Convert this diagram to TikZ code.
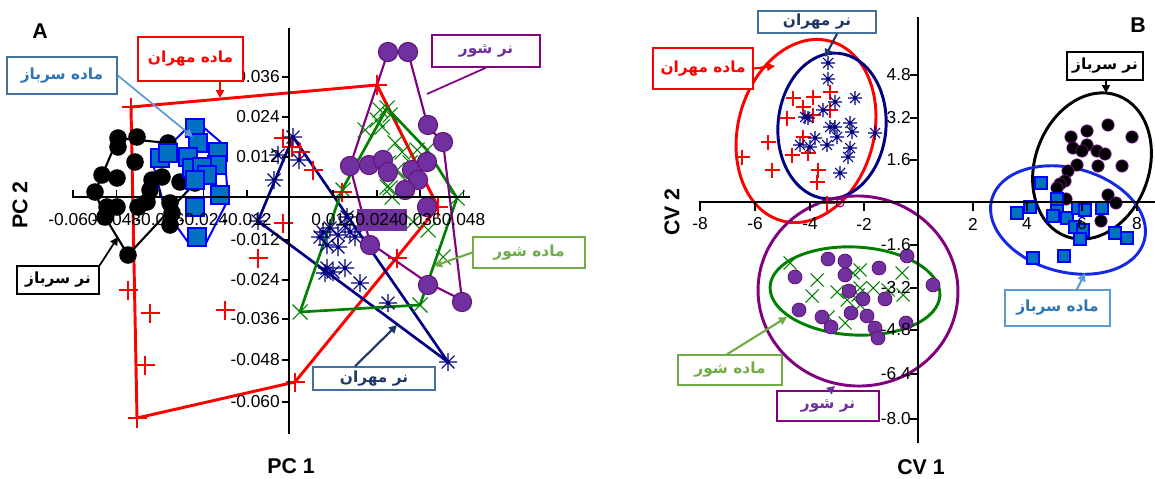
\documentclass[tikz,border=0pt]{standalone}
\usepackage{fontspec}
\setmainfont{Liberation Sans}
\newfontfamily\fa[Script=Arabic]{DejaVu Sans}
\TeXXeTstate=1
\usetikzlibrary{arrows.meta}
\definecolor{cNavy}{RGB}{0,0,128}
\definecolor{cGreen}{RGB}{0,128,0}
\definecolor{cPurp}{RGB}{112,48,160}
\definecolor{cPurpD}{RGB}{100,20,120}
\definecolor{cPurpL}{RGB}{128,0,128}
\definecolor{cSq}{RGB}{0,112,192}
\definecolor{cSqB}{RGB}{0,0,255}
\definecolor{cSteel}{RGB}{65,113,156}
\definecolor{cLB}{RGB}{91,155,213}
\definecolor{cLG}{RGB}{112,173,71}
\definecolor{cTxtB}{RGB}{46,117,182}
\definecolor{cTxtN}{RGB}{31,56,100}
\definecolor{cBlueE}{RGB}{20,40,230}
\begin{document}
\begin{tikzpicture}[x=0.75pt,y=-0.75pt,
  lbl/.style={draw, line width=1.1pt, inner sep=0pt, fill=white, font=\fa\bfseries\fontsize{11.5}{13}\selectfont},
  tk/.style={line width=0.9pt},
  axl/.style={line width=1.3pt},
  tl/.style={font=\fontsize{13}{15}\selectfont, inner sep=0pt},
  ttl/.style={font=\bfseries\fontsize{16}{18}\selectfont, inner sep=0pt},
  ann/.style={line width=1.6pt, -{Triangle[length=6pt,width=6pt]}},
  mk/.style={line width=0.8pt},
  hull/.style={line width=2pt, line join=round}]
\useasboundingbox (0,0) rectangle (1155,478);

% ================= PANEL A =================
% hulls
\draw[hull, red, line width=2.2pt] (131,107) -- (377,85) -- (438,207) -- (295,382) -- (137,418) -- cycle;
\draw[hull, black, line width=1.6pt] (118,138) -- (168,143) -- (195,183) -- (128,255) -- (105,217) -- (95,192) -- cycle;
\draw[hull, cSqB, line width=1.5pt] (195,120) -- (224,145) -- (228,200) -- (205,245) -- (190,245) -- (165,210) -- (152,160) -- (170,145) -- cycle;
\draw[hull, cNavy] (293,137) -- (448,362) -- (258,221) -- cycle;
\draw[hull, cGreen] (387,108) -- (427,150) -- (457,198) -- (420,305) -- (300,312) -- (342,190) -- cycle;
\draw[hull, cPurpL, line width=1.6pt] (388,52) -- (408,52) -- (428,127) -- (443,142) -- (462,300) -- (428,283) -- (370,243) -- (350,166) -- cycle;

% red plus
\foreach \x/\y in {131/107,377/85,438/207,295/382,137/418,128/290,150/313,145/365,258/258,225/310,283/138,300/152,313/170,342/192,397/258,283/223,292/147}
  \draw[red, mk, shift={(\x,\y)}] (-9.5,0) -- (9.5,0) (0,-9.5) -- (0,9.5);
% navy stars
\foreach \x/\y in {293/137,278/155,274/180,258/221,299/160,323/232,330/228,338/235,345/225,350/232,355/237,338/247,327/245,320/237,347/217,327/268,333/272,345/268,325/273,360/283,388/303,448/362}
  \draw[cNavy, mk, shift={(\x,\y)}] (-9,0) -- (9,0) (0,-9) -- (0,9) (-6.4,-6.4) -- (6.4,6.4) (-6.4,6.4) -- (6.4,-6.4);
% green X
\foreach \x/\y in {343/190,365/130,380/110,387/108,377/120,390/115,382/127,395/143,402/152,388/163,397/170,410/163,417/150,427/150,387/187,405/180,392/197,457/198,420/305,300/312,443/257,428/230,413/222,390/188}
  \draw[cGreen, mk, shift={(\x,\y)}] (-7.5,-7.5) -- (7.5,7.5) (-7.5,7.5) -- (7.5,-7.5);
% black circles
\foreach \x/\y in {118/138,137/137,168/143,118/147,135/162,102/175,117/178,95/192,107/207,117/207,105/217,152/180,162/177,180/182,195/183,150/190,147/202,138/207,170/203,172/213,170/225,128/255}
  \fill[black] (\x,\y) circle[radius=6.6pt];
% blue squares
\foreach \x/\y in {195/128,198/143,160/158,188/157,218/152,217/165,192/168,202/167,207/175,195/180,220/195,195/207,197/237,168/153}
  \draw[cSqB, fill=cSq, line width=0.9pt, shift={(\x,\y)}] (-9,-9) rectangle (9,9);
% purple circles
\foreach \x/\y in {388/52,408/52,428/125,443/142,350/166,369/165,383/160,388/172,412/170,427/162,418/180,405/190,427/207,370/245,428/285,462/302}
  \draw[cPurpD, fill=cPurp, line width=0.8pt] (\x,\y) circle[radius=7.2pt];

% axes A
\draw[axl] (289,28) -- (289,434);
\draw[axl] (72,197) -- (470,197);
\fill[cPurp] (357,209) rectangle (407,231);
\foreach \y/\t in {77/0.036,117/0.024,157/0.012,240/-0.012,280/-0.024,319/-0.036,360/-0.048,402/-0.060} {
  \draw[tk] (282,\y) -- (289,\y);
  \node[tl, anchor=east] at (280,\y) {\t};
}
\foreach \x/\t in {73/-0.060,116.5/-0.048,160/-0.036,203.5/-0.024,247/-0.012,333/0.012,377/0.024,420/0.036,463.5/0.048} {
  \draw[tk] (\x,190) -- (\x,197);
  \node[tl] at (\x,220) {\t};
}
\node[ttl] (tA) at (40,31) {A};
\node[ttl, rotate=90] (pc2) at (20,205) {PC 2};
\node[ttl] (pc1) at (291,466) {PC 1};

% labels A
\node[lbl, draw=red, text=red, minimum width=105*0.75pt, minimum height=44*0.75pt] (mmA) at (190.5,59) {\beginR ماده مهران\endR};
\node[lbl, draw=cSteel, text=cTxtB, minimum width=110*0.75pt, minimum height=37*0.75pt] (msA) at (62,75.5) {\beginR ماده سرباز\endR};
\node[lbl, draw=black, text=black, minimum width=82*0.75pt, minimum height=28*0.75pt] (nsA) at (58,280) {\beginR نر سرباز\endR};
\node[lbl, draw=cPurpL, text=cPurp, minimum width=108*0.75pt, minimum height=32*0.75pt] (nshA) at (486,51) {\beginR نر شور\endR};
\node[lbl, draw=cLG, text=cLG, minimum width=112*0.75pt, minimum height=31*0.75pt] (mshA) at (529,252.5) {\beginR ماده شور\endR};
\node[lbl, draw=cSteel, text=cTxtN, minimum width=122*0.75pt, minimum height=23*0.75pt] (nmA) at (374,378.5) {\beginR نر مهران\endR};

\coordinate (mmAt) at (220,98);
\coordinate (msAt) at (193,137);
\coordinate (nsAt) at (118,237);
\coordinate (nshAt) at (427,94);
\coordinate (mshAt) at (434,266);
\coordinate (nmAt) at (397,325);
\draw[ann, red] (mmA.south -| mmAt) -- (mmAt);
\draw[ann, cLB, line width=1.3pt] (msA.east) -- (msAt);
\draw[ann, black, line width=1.3pt] (nsA.north east) -- (nsAt);
\draw[cPurpL, line width=1.3pt] (nshA.south) -- (nshAt);
\draw[ann, cLG] (mshA.west) -- (mshAt);
\draw[ann, cTxtN] (nmA.north -| 355,0) -- (nmAt);

% ================= PANEL B =================
% ellipses
\draw[red, line width=2.2pt, rotate around={-15:(806,131)}] (806,131) ellipse [x radius=68*0.75pt, y radius=93*0.75pt];
\draw[cNavy, line width=2.2pt, rotate around={-5:(832,126)}] (832,126) ellipse [x radius=54*0.75pt, y radius=73*0.75pt];
\draw[black, line width=2.2pt, rotate around={-20:(1092,166)}] (1092,166) ellipse [x radius=57*0.75pt, y radius=75*0.75pt];
\draw[cBlueE, line width=2.2pt, rotate around={-15:(1068,220)}] (1068,220) ellipse [x radius=79*0.75pt, y radius=52*0.75pt];
\draw[cGreen, line width=2.2pt, rotate around={-3:(855,291)}] (855,291) ellipse [x radius=85*0.75pt, y radius=44*0.75pt];
\draw[cPurpL, line width=2.2pt, rotate around={-5:(858,291)}] (858,291) ellipse [x radius=100*0.75pt, y radius=95*0.75pt];

% red plus B
\foreach \x/\y in {793/98,813/97,830/92,803/107,787/118,813/115,768/142,742/157,772/170,792/155,803/137,808/153,818/170,817/182,830/110,827/203}
  \draw[red, mk, shift={(\x,\y)}] (-7.5,0) -- (7.5,0) (0,-7.5) -- (0,7.5);
% navy stars B
\foreach \x/\y in {828/63,828/79,835/102,855/98,823/110,805/117,808/118,830/127,835/127,850/123,852/132,875/133,837/137,827/145,815/138,800/145,810/147,850/148,848/157,840/173}
  \draw[cNavy, mk, shift={(\x,\y)}] (-7,0) -- (7,0) (0,-7) -- (0,7) (-5,-5) -- (5,5) (-5,5) -- (5,-5);
\draw[cPurpL, line width=0.8pt] (840,203) circle[radius=3pt];
% black circles B
\foreach \x/\y in {1108/125,1087/131,1132/137,1071/137,1087/145,1073/148,1097/151,1105/154,1082/151,1077/165,1098/166,1122/166,1068/171,1065/181,1060/184,1057/188,1066/199,1108/195,1116/203,1101/221}
  \draw[cPurpD, fill=black, line width=0.6pt] (\x,\y) circle[radius=4.6pt];
% blue squares B
\foreach \x/\y in {1041/183,1017/213,1030/207,1057/199,1057/211,1053/216,1067/218,1078/208,1085/210,1102/208,1075/227,1083/230,1080/239,1115/233,1127/238,1033/258,1064/256}
  \draw[cSqB, fill=cSq, line width=0.8pt, shift={(\x,\y)}] (-6,-6) rectangle (6,6);
% green X B
\foreach \x/\y in {790/263,817/280,812/296,837/292,847/300,845/323,828/317,860/270,853/273,860/288,873/288,860/305,902/273,903/295,888/290,850/292,858/295}
  \draw[cGreen, mk, shift={(\x,\y)}] (-6.5,-6.5) -- (6.5,6.5) (-6.5,6.5) -- (6.5,-6.5);
% purple circles B
\foreach \x/\y in {828/259,845/261,795/277,845/275,879/268,849/291,863/299,885/299,799/310,822/317,831/327,851/313,867/316,875/328,878/338,906/323,907/256,933/285}
  \draw[cPurpD, fill=cPurp, line width=0.6pt] (\x,\y) circle[radius=5.2pt];

% axes B
\draw[axl] (918,17) -- (918,443);
\draw[axl] (699,202) -- (1155,202);
\foreach \y/\t in {75/4.8,118/3.2,160/1.6,245/-1.6,288/-3.2,330/-4.8,374/-6.4,419/-8.0} {
  \draw[tk] (910,\y) -- (918,\y);
  \node[tl, anchor=east] at (911,\y) {\t};
}
\foreach \x/\t in {700/-8,755/-6,810/-4,864/-2,973/2,1027/4,1082/6,1137/8} {
  \draw[tk] (\x,202) -- (\x,211);
  \node[tl] at (\x,224) {\t};
}
\node[ttl] (tB) at (1138,25) {B};
\node[ttl, rotate=90] (cv2) at (672,212) {CV 2};
\node[ttl] (cv1) at (921,467) {CV 1};

% labels B
\node[lbl, draw=cSteel, text=cTxtN, minimum width=118*0.75pt, minimum height=22*0.75pt] (nmB) at (817,22) {\beginR نر مهران\endR};
\node[lbl, draw=red, text=red, minimum width=100*0.75pt, minimum height=41*0.75pt] (mmB) at (703,68.5) {\beginR ماده مهران\endR};
\node[lbl, draw=black, text=black, minimum width=76*0.75pt, minimum height=28*0.75pt] (nsB) at (1105,66) {\beginR نر سرباز\endR};
\node[lbl, draw=cLB, text=cTxtB, minimum width=105*0.75pt, minimum height=36*0.75pt] (msB) at (1057.5,308) {\beginR ماده سرباز\endR};
\node[lbl, draw=cLG, text=cLG, minimum width=104*0.75pt, minimum height=30*0.75pt] (mshB) at (730,370) {\beginR ماده شور\endR};
\node[lbl, draw=cPurpL, text=cPurp, minimum width=102*0.75pt, minimum height=30*0.75pt] (nshB) at (828,406) {\beginR نر شور\endR};

\coordinate (nmBt) at (825,57);
\coordinate (mmBt) at (775,66);
\coordinate (nsBt) at (1106,93);
\coordinate (msBt) at (1085,273);
\coordinate (mshBt) at (787,317);
\coordinate (nshBt) at (835,386);
\draw[ann, cTxtN] (nmB.south -| 837,0) -- (nmBt);
\draw[ann, red] (mmB.east) -- (mmBt);
\draw[ann, black, line width=1.3pt] (nsB.south -| nsBt) -- (nsBt);
\draw[ann, cLB] (msB.north -| 1077,0) -- (msBt);
\draw[ann, cLG] (mshB.north -| 727,0) -- (mshBt);
\draw[ann, cPurp] (nshB.north -| 830,0) -- (nshBt);
\end{tikzpicture}
\end{document}
